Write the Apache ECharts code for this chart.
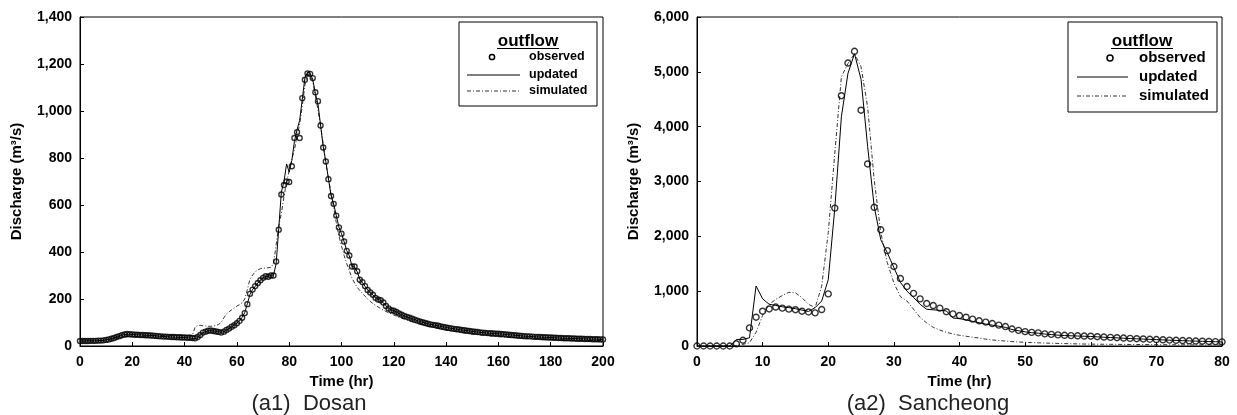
<!DOCTYPE html>
<html>
<head>
<meta charset="utf-8">
<script src="https://cdn.jsdelivr.net/npm/echarts@6/dist/echarts.min.js"></script>
<style>
  html, body { margin: 0; padding: 0; background: #fff; }
  #chart { width: 1237px; height: 415px; }
</style>
</head>
<body>
<div id="chart"></div>
<script>
// ---- Dosan (a1): hourly values, 0..200 hr ----
const dosanObserved = [
  21,21,21,21,22,22,22,23,23,24,
  26,28,31,34,38,42,46,49,51,50,
  49,48,48,47,47,46,46,45,44,43,
  42,41,40,40,39,38,38,37,37,36,
  36,35,35,34,33,38,47,57,61,65,
  66,64,62,60,57,61,68,74,82,88,
  97,107,120,140,178,222,240,255,268,280,
  290,297,295,300,300,360,495,645,685,700,
  698,765,885,910,885,1055,1133,1160,1158,1140,
  1080,1042,938,845,785,710,638,605,555,505,
  478,445,405,385,338,338,318,282,272,255,
  238,228,218,205,198,195,185,170,160,152,
  150,145,138,133,128,124,120,116,112,108,
  104,101,98,95,92,90,88,86,83,81,
  79,77,75,73,72,70,68,67,65,64,
  62,61,60,58,57,56,55,54,53,52,
  52,51,50,49,48,47,46,45,44,43,
  42,41,41,40,39,39,38,37,37,36,
  36,35,35,34,34,33,33,33,32,32,
  31,31,31,30,30,30,29,29,29,28,
  28
];
const dosanUpdated = [
  21,21,21,22,22,22,22,23,23,24,
  26,28,31,34,38,42,46,49,50,50,
  49,48,48,47,47,46,46,45,44,43,
  42,41,40,40,39,38,38,37,37,36,
  36,35,34,33,31,36,46,56,61,64,
  66,64,62,60,58,61,67,74,82,89,
  98,108,122,142,180,220,240,254,268,280,
  290,296,296,300,302,350,500,655,700,775,
  740,790,870,920,960,1050,1140,1165,1160,1135,
  1075,1030,940,848,785,712,640,604,556,506,
  478,444,406,384,340,336,316,284,270,254,
  238,228,217,206,199,194,184,171,161,153,
  150,145,138,133,128,124,120,116,112,108,
  104,101,98,95,92,90,88,86,83,81,
  79,77,75,73,72,70,68,67,65,64,
  62,61,60,58,57,56,55,54,53,52,
  52,51,50,49,48,47,46,45,44,43,
  42,41,41,40,39,39,38,37,37,36,
  36,35,35,34,34,33,33,33,32,32,
  31,31,31,30,30,30,29,29,29,28,
  28
];
const dosanSimulated = [
  22,22,22,22,22,22,23,23,24,25,
  27,28,30,32,34,36,37,38,39,40,
  40,41,41,42,42,43,43,44,44,44,
  45,45,45,45,46,46,46,46,46,46,
  46,46,46,46,80,88,88,86,85,84,
  84,85,87,92,100,120,136,146,154,162,
  170,176,184,200,240,285,302,316,324,329,
  331,332,333,335,350,430,510,565,635,700,
  745,795,835,890,945,1020,1110,1155,1156,1125,
  1065,1005,935,860,780,715,650,590,525,470,
  425,385,350,320,290,268,250,236,224,212,
  200,190,181,173,166,159,153,147,142,137,
  132,127,122,118,114,110,106,103,100,97,
  94,91,88,85,82,80,77,75,73,70,
  68,66,64,62,60,58,57,55,54,52,
  51,50,48,47,46,45,44,43,42,41,
  40,39,39,38,37,37,36,35,35,34,
  33,33,32,32,31,31,30,30,29,29,
  28,28,27,27,27,26,26,26,25,25,
  25,25,24,24,24,24,24,23,23,23,
  23
];

// ---- Sancheong (a2): hourly values, 0..80 hr ----
const sanObserved = [
  0,0,0,0,0,0,40,105,330,525,
  635,675,710,690,672,662,635,620,605,665,
  950,2515,4565,5160,5375,4300,3320,2530,2120,1740,
  1450,1230,1085,960,860,775,738,690,625,585,
  555,525,490,460,435,410,380,355,310,285,
  262,248,240,222,212,202,195,190,186,182,
  178,170,163,157,151,145,139,133,128,123,
  118,113,108,104,99,95,91,87,83,79,
  75
];
const sanUpdated = [
  0,0,0,0,0,0,120,120,150,1095,
  860,760,740,715,700,680,655,630,700,820,
  1210,2515,4180,4970,5330,4860,3640,2545,1940,1700,
  1430,1160,1000,885,760,670,660,650,640,510,
  500,475,450,425,400,380,360,340,300,278,
  258,242,234,218,208,198,191,186,182,178,
  174,167,160,154,148,142,136,131,126,121,
  116,111,106,102,97,93,89,85,81,78,
  74
];
const sanSimulated = [
  0,0,0,0,0,0,10,30,60,250,
  560,760,850,920,980,970,880,760,700,1090,
  2070,3520,4910,5150,5330,5090,4360,3030,2070,1520,
  1150,900,820,670,520,420,340,290,250,220,
  195,178,160,145,125,110,100,90,80,73,
  67,62,58,54,50,47,44,41,38,36,
  34,33,32,31,30,29,28,27,26,25,
  25,24,23,23,22,21,21,20,20,19,
  18
];

const dosanTicks = { max: 200, step: 20, ymax: 1400, ystep: 200 };
const sanTicks = { max: 80, step: 10, ymax: 6000, ystep: 1000 };

const FONT = 'Liberation Sans';
const toPairs = arr => arr.map((v, i) => [i, v]);
const thousands = v => v.toLocaleString('en-US');

function xAxisFor(idx, t) {
  return {
    gridIndex: idx, type: 'value', min: 0, max: t.max, interval: t.step,
    name: 'Time (hr)', nameLocation: 'middle', nameGap: 26,
    nameTextStyle: { fontFamily: FONT, fontWeight: 'bold', fontSize: 15, color: '#000' },
    axisLine: { lineStyle: { color: '#000', width: 1 } },
    axisTick: { inside: true, length: 4, lineStyle: { color: '#000' } },
    axisLabel: { fontFamily: FONT, fontWeight: 'bold', fontSize: 14, color: '#000', margin: 9 },
    splitLine: { show: false }
  };
}
function yAxisFor(idx, t) {
  return {
    gridIndex: idx, type: 'value', min: 0, max: t.ymax, interval: t.ystep,
    name: 'Discharge (m\u00B3/s)', nameLocation: 'middle', nameGap: 56, nameRotate: 90,
    nameTextStyle: { fontFamily: FONT, fontWeight: 'bold', fontSize: 15, color: '#000' },
    axisLine: { show: true, lineStyle: { color: '#000', width: 1 } },
    axisTick: { show: true, inside: true, length: 4, lineStyle: { color: '#000' } },
    axisLabel: { fontFamily: FONT, fontWeight: 'bold', fontSize: 14, color: '#000', margin: 8,
      formatter: thousands },
    splitLine: { show: false }
  };
}

const dashDot = [4, 2, 1, 2];

function seriesFor(idx, obs, upd, sim, symSize) {
  return [
    { name: 'simulated', type: 'line', xAxisIndex: idx, yAxisIndex: idx, data: toPairs(sim),
      symbol: 'none', z: 2, lineStyle: { color: '#333', width: 1, type: dashDot } },
    { name: 'updated', type: 'line', xAxisIndex: idx, yAxisIndex: idx, data: toPairs(upd),
      symbol: 'none', z: 3, lineStyle: { color: '#000', width: 1 } },
    { name: 'observed', type: 'scatter', xAxisIndex: idx, yAxisIndex: idx, data: toPairs(obs),
      symbol: 'circle', symbolSize: symSize, z: 4,
      itemStyle: { color: 'rgba(255,255,255,0)', borderColor: '#000', borderWidth: 1.4 } }
  ];
}

// legend box drawn as graphics (title underlined, like the original)
function legendBox(b) {
  const els = [
    { type: 'rect', shape: { x: b.x, y: b.y, width: b.w, height: b.h },
      style: { fill: '#fff', stroke: '#000', lineWidth: 1 }, z: 10 },
    { type: 'text', x: b.titleX, y: b.titleY, z: 11,
      style: { text: 'outflow', font: 'bold ' + b.titleSize + 'px ' + FONT, fill: '#000',
        align: 'center', verticalAlign: 'middle' } },
    { type: 'line', z: 11, shape: { x1: b.titleX - b.ulHalf, y1: b.ulY, x2: b.titleX + b.ulHalf, y2: b.ulY },
      style: { stroke: '#000', lineWidth: 1 } },
    { type: 'circle', z: 11, shape: { cx: b.iconX, cy: b.rows[0], r: b.r },
      style: { fill: '#fff', stroke: '#000', lineWidth: 1.5 } },
    { type: 'line', z: 11, shape: { x1: b.lineX1, y1: b.rows[1], x2: b.lineX2, y2: b.rows[1] },
      style: { stroke: '#000', lineWidth: 1 } },
    { type: 'line', z: 11, shape: { x1: b.lineX1, y1: b.rows[2], x2: b.lineX2, y2: b.rows[2] },
      style: { stroke: '#333', lineWidth: 1, lineDash: dashDot } }
  ];
  ['observed', 'updated', 'simulated'].forEach((t, i) => {
    els.push({ type: 'text', x: b.textX, y: b.rows[i], z: 11,
      style: { text: t, font: 'bold ' + b.itemSize + 'px ' + FONT, fill: '#000',
        align: 'left', verticalAlign: 'middle' } });
  });
  return els;
}

const chart = echarts.init(document.getElementById('chart'), null, { renderer: 'canvas' });
chart.setOption({
  backgroundColor: '#fff',
  animation: false,
  grid: [
    { left: 80, top: 17, width: 523, height: 329, show: true, borderColor: '#000', borderWidth: 1 },
    { left: 697, top: 17, width: 525, height: 329, show: true, borderColor: '#000', borderWidth: 1 }
  ],
  xAxis: [xAxisFor(0, dosanTicks), xAxisFor(1, sanTicks)],
  yAxis: [yAxisFor(0, dosanTicks), yAxisFor(1, sanTicks)],
  series: [
    ...seriesFor(0, dosanObserved, dosanUpdated, dosanSimulated, 5),
    ...seriesFor(1, sanObserved, sanUpdated, sanSimulated, 6)
  ],
  graphic: [
    ...legendBox({ x: 459, y: 22, w: 138, h: 84, titleX: 528, titleY: 41, titleSize: 17,
      ulY: 48.5, ulHalf: 31, rows: [57, 75, 91], iconX: 492, r: 2.6,
      lineX1: 467, lineX2: 520, textX: 529, itemSize: 12.5 }),
    ...legendBox({ x: 1068, y: 22, w: 149, h: 90, titleX: 1142, titleY: 41, titleSize: 17,
      ulY: 48.5, ulHalf: 31, rows: [58, 77, 96], iconX: 1110, r: 3,
      lineX1: 1077, lineX2: 1128, textX: 1139, itemSize: 15 }),
    { type: 'text', x: 309, y: 404,
      style: { text: '(a1)  Dosan', font: '22px ' + FONT, fill: '#222', align: 'center', verticalAlign: 'middle' } },
    { type: 'text', x: 928, y: 404,
      style: { text: '(a2)  Sancheong', font: '22px ' + FONT, fill: '#222', align: 'center', verticalAlign: 'middle' } }
  ]
});
</script>
</body>
</html>
